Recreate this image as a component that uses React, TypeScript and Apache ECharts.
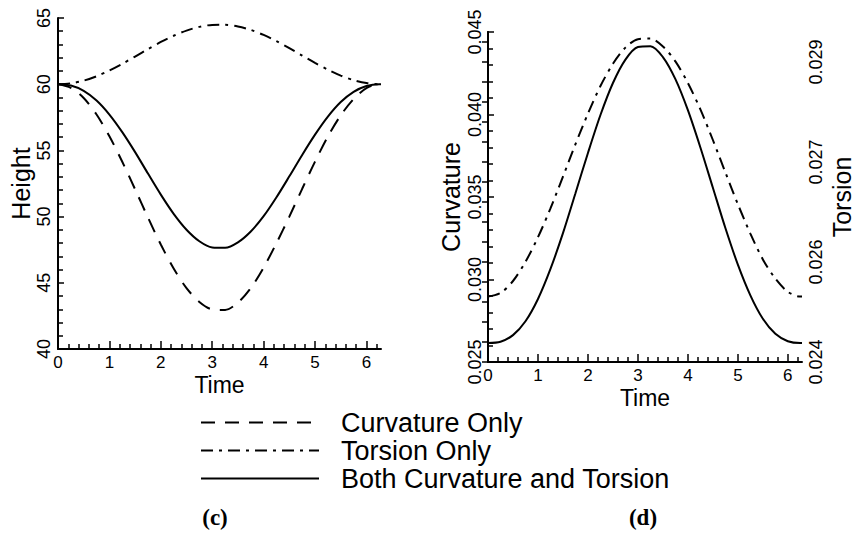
import React, { useEffect, useRef } from "react";
import * as echarts from "echarts";

const TWO_PI = 6.2832;
const time = [0, 0.25, 0.5, 0.75, 1, 1.25, 1.5, 1.75, 2, 2.25, 2.5, 2.75, 3, 3.25, 3.5, 3.75, 4, 4.25, 4.5, 4.75, 5, 5.25, 5.5, 5.75, 6, 6.25, 6.2832];

// panel (c): Height
const heightCurvatureOnly = [60.0, 59.73, 58.96, 57.71, 56.07, 54.14, 52.06, 49.93, 47.89, 46.08, 44.6, 43.55, 42.99, 42.95, 43.5, 44.6, 46.15, 48.0, 50.0, 52.1, 54.15, 56.05, 57.65, 58.88, 59.7, 60.0, 60.0];
const heightTorsionOnly = [60.0, 60.07, 60.27, 60.6, 61.04, 61.54, 62.09, 62.65, 63.19, 63.66, 64.05, 64.33, 64.48, 64.49, 64.36, 64.1, 63.72, 63.25, 62.72, 62.16, 61.61, 61.1, 60.65, 60.31, 60.09, 60.0, 60.0];
const heightBoth = [60.0, 59.9, 59.5, 58.77, 57.71, 56.38, 54.87, 53.25, 51.66, 50.21, 49.01, 48.14, 47.67, 47.64, 48.05, 48.87, 50.03, 51.46, 53.04, 54.66, 56.19, 57.55, 58.65, 59.42, 59.86, 60.0, 60.0];

// panel (d): Curvature (left axis) and Torsion (right axis)
const curvatureBoth = [0.02615, 0.02623, 0.02663, 0.02747, 0.02882, 0.03064, 0.03281, 0.03523, 0.03767, 0.03997, 0.04191, 0.04333, 0.04409, 0.04414, 0.04348, 0.04214, 0.04026, 0.038, 0.03556, 0.03312, 0.0309, 0.02904, 0.02762, 0.02671, 0.02626, 0.02615, 0.02615];
const torsionBoth = [0.02509, 0.02515, 0.02535, 0.02567, 0.02608, 0.02656, 0.02709, 0.02763, 0.02814, 0.0286, 0.02897, 0.02924, 0.02938, 0.02939, 0.02926, 0.02901, 0.02865, 0.02821, 0.0277, 0.02716, 0.02663, 0.02614, 0.02571, 0.02539, 0.02517, 0.02509, 0.02509];

const timeTicks = [0, 1, 2, 3, 4, 5, 6];
const timeMinorTicks = [0.2, 0.4, 0.6, 0.8, 1.2, 1.4, 1.6, 1.8, 2.2, 2.4, 2.6, 2.8, 3.2, 3.4, 3.6, 3.8, 4.2, 4.4, 4.6, 4.8, 5.2, 5.4, 5.6, 5.8, 6.2];
const torsionLabelValues = [0.024, 0.0256667, 0.0273333, 0.029];
const torsionTickValues = [0.024, 0.0243333, 0.0246667, 0.025, 0.0253333, 0.0256667, 0.026, 0.0263333, 0.0266667, 0.027, 0.0273333, 0.0276667, 0.028, 0.0283333, 0.0286667, 0.029, 0.0293333];

const legendNames = ["Curvature Only", "Torsion Only", "Both Curvature and Torsion"];

const FONT = '"Liberation Sans", Arial, sans-serif';
const BLACK = "#000";
const DASHED = [14, 10];
const DASHDOT = [12, 6, 3, 6];

function pairs(ys: number[]) {
  return time.map((t, i) => [t, ys[i]]);
}

function majorX(gridIndex: number, nameGap: number) {
  return {
    type: "value",
    gridIndex,
    position: "bottom",
    min: 0,
    max: TWO_PI,
    axisLine: { show: true, lineStyle: { color: BLACK, width: 2 } },
    axisTick: { show: true, inside: true, length: 8, customValues: timeTicks, lineStyle: { color: BLACK, width: 1.5 } },
    axisLabel: { customValues: timeTicks, margin: 6, fontSize: 17, lineHeight: 14, color: BLACK, fontFamily: FONT },
    splitLine: { show: false },
    name: "Time",
    nameLocation: "middle",
    nameGap,
    nameMoveOverlap: false,
    nameTextStyle: { fontSize: 23, color: BLACK, fontFamily: FONT },
  };
}

function minorX(gridIndex: number) {
  return {
    type: "value",
    gridIndex,
    position: "bottom",
    min: 0,
    max: TWO_PI,
    axisLine: { show: false },
    axisTick: { show: true, inside: true, length: 5, customValues: timeMinorTicks, lineStyle: { color: BLACK, width: 1.5 } },
    axisLabel: { show: false },
    splitLine: { show: false },
  };
}

export default function App() {
  const ref = useRef<HTMLDivElement>(null);

  useEffect(() => {
    if (!ref.current) return;
    const chart = echarts.init(ref.current, null, { renderer: "svg" });
    const yCommon = {
      type: "value",
      axisLine: { show: true, lineStyle: { color: BLACK, width: 2 } },
      splitLine: { show: false },
      minorSplitLine: { show: false },
      nameLocation: "middle",
      nameRotate: 90,
      nameMoveOverlap: false,
      nameTextStyle: { fontSize: 25, color: BLACK, fontFamily: FONT },
    };
    const option = {
      animation: false,
      backgroundColor: "#fff",
      grid: [
        { left: 58, top: 18, width: 323, height: 331 },
        { left: 488, top: 32, width: 322, height: 330 },
      ],
      xAxis: [majorX(0, 24.5), minorX(0), majorX(1, 24), minorX(1)],
      yAxis: [
        {
          ...yCommon,
          gridIndex: 0,
          position: "left",
          min: 40,
          max: 65,
          interval: 5,
          axisTick: { show: true, inside: true, length: 6, lineStyle: { color: BLACK, width: 1.5 } },
          minorTick: { show: true, splitNumber: 5, length: 5, lineStyle: { color: BLACK, width: 1.5 } },
          axisLabel: { rotate: 90, margin: 5, fontSize: 18, color: BLACK, fontFamily: FONT },
          name: "Height",
          nameGap: 25,
        },
        {
          ...yCommon,
          gridIndex: 1,
          position: "left",
          min: 0.025,
          max: 0.045,
          interval: 0.005,
          axisTick: { show: true, inside: true, length: 6, lineStyle: { color: BLACK, width: 1.5 } },
          minorTick: { show: true, splitNumber: 5, length: 5, lineStyle: { color: BLACK, width: 1.5 } },
          axisLabel: {
            rotate: 90,
            margin: 4,
            fontSize: 18,
            color: BLACK,
            fontFamily: FONT,
            formatter: (v: number) => v.toFixed(3),
          },
          name: "Curvature",
          nameGap: 25,
        },
        {
          ...yCommon,
          gridIndex: 1,
          position: "right",
          min: 0.024,
          max: 0.0295,
          axisTick: { show: true, inside: true, length: 6, customValues: torsionTickValues, lineStyle: { color: BLACK, width: 1.5 } },
          axisLabel: {
            customValues: torsionLabelValues,
            rotate: 90,
            margin: 5,
            fontSize: 18,
            color: BLACK,
            fontFamily: FONT,
            formatter: (v: number) => v.toFixed(3),
          },
          name: "Torsion",
          nameGap: 27,
        },
      ],
      legend: {
        orient: "vertical",
        left: 200,
        top: 409,
        padding: 0,
        itemWidth: 118,
        itemHeight: 14,
        itemGap: 1,
        selectedMode: false,
        data: legendNames,
        itemStyle: { opacity: 0 },
        textStyle: { fontSize: 27, lineHeight: 26, color: BLACK, fontFamily: FONT, padding: [0, 0, 0, 17] },
      },
      graphic: [
        {
          type: "text",
          x: 215,
          y: 517,
          style: { text: "(c)", font: 'bold 23px "Liberation Serif", "Times New Roman", serif', fill: BLACK, align: "center", verticalAlign: "middle" },
        },
        {
          type: "text",
          x: 643,
          y: 517,
          style: { text: "(d)", font: 'bold 23px "Liberation Serif", "Times New Roman", serif', fill: BLACK, align: "center", verticalAlign: "middle" },
        },
      ],
      series: [
        {
          name: legendNames[0],
          type: "line",
          xAxisIndex: 0,
          yAxisIndex: 0,
          data: pairs(heightCurvatureOnly),
          symbol: "none",
          smooth: 0.3,
          lineStyle: { color: BLACK, width: 2, type: DASHED },
          itemStyle: { color: BLACK },
        },
        {
          name: legendNames[1],
          type: "line",
          xAxisIndex: 0,
          yAxisIndex: 0,
          data: pairs(heightTorsionOnly),
          symbol: "none",
          smooth: 0.3,
          lineStyle: { color: BLACK, width: 2, type: DASHDOT },
          itemStyle: { color: BLACK },
        },
        {
          name: legendNames[2],
          type: "line",
          xAxisIndex: 0,
          yAxisIndex: 0,
          data: pairs(heightBoth),
          symbol: "none",
          smooth: 0.3,
          lineStyle: { color: BLACK, width: 2, type: "solid" },
          itemStyle: { color: BLACK },
        },
        {
          name: legendNames[1],
          type: "line",
          xAxisIndex: 2,
          yAxisIndex: 2,
          data: pairs(torsionBoth),
          symbol: "none",
          smooth: 0.3,
          lineStyle: { color: BLACK, width: 2, type: DASHDOT },
          itemStyle: { color: BLACK },
        },
        {
          name: legendNames[2],
          type: "line",
          xAxisIndex: 2,
          yAxisIndex: 1,
          data: pairs(curvatureBoth),
          symbol: "none",
          smooth: 0.3,
          lineStyle: { color: BLACK, width: 2, type: "solid" },
          itemStyle: { color: BLACK },
        },
      ],
    };
    chart.setOption(option as any);
    return () => chart.dispose();
  }, []);

  return (
    <div
      ref={ref}
      style={{ position: "absolute", left: 0, top: 0, width: 855, height: 533, background: "#fff" }}
    />
  );
}
